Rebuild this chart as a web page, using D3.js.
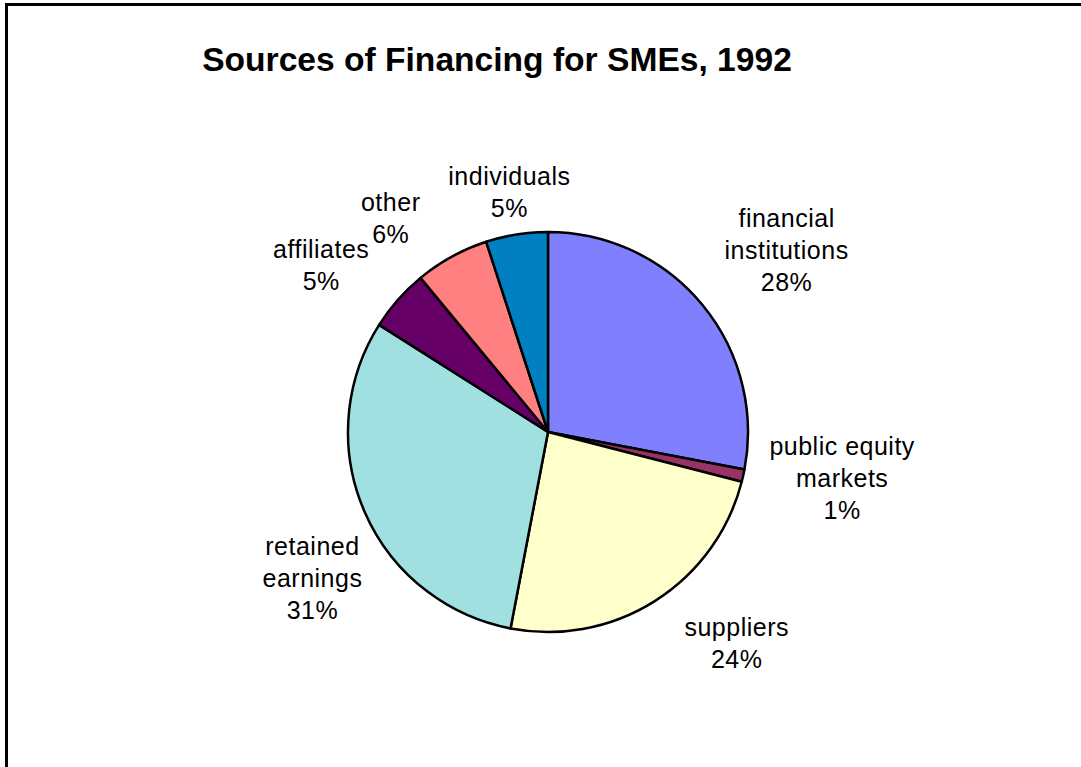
<!DOCTYPE html>
<html>
<head>
<meta charset="utf-8">
<script src="https://cdn.jsdelivr.net/npm/d3@7"></script>
<style>
  html, body { margin: 0; padding: 0; background: #fff; }
  svg { display: block; }
</style>
</head>
<body>
<svg id="chart" width="1081" height="767"></svg>
<script>
// Sources of financing for small and medium enterprises, 1992 (percent of total)
const categories = [
  "financial institutions",
  "public equity markets",
  "suppliers",
  "retained earnings",
  "affiliates",
  "other",
  "individuals"
];
const shares = [28, 1, 24, 31, 5, 6, 5];
const labelLines = [
  ["financial", "institutions"],
  ["public equity", "markets"],
  ["suppliers"],
  ["retained", "earnings"],
  ["affiliates"],
  ["other"],
  ["individuals"]
];
const sliceColors = ["#8080FF", "#993366", "#FFFFCC", "#A0E0E0", "#660066", "#FF8080", "#0080C0"];

const width = 1081, height = 767;
const cx = 548, cy = 432, radius = 200;
const labelRadius = 285;
const lineGap = 32;
// fine placement of each label box relative to its slice direction
const labelNudge = [[19, 0], [16, -16], [36, -30], [26, 33], [-13, 21], [-20, 36], [6, 41]];

const svg = d3.select("#chart");

// outer frame (top and left edges visible)
svg.append("rect")
  .attr("x", 6.5).attr("y", 4.5)
  .attr("width", width + 20).attr("height", height + 20)
  .attr("fill", "none")
  .attr("stroke", "#000")
  .attr("stroke-width", 3);

svg.append("text")
  .attr("x", 497).attr("y", 71)
  .attr("text-anchor", "middle")
  .attr("font-family", "Liberation Sans, Arial, sans-serif")
  .attr("font-weight", "bold")
  .attr("font-size", 33.6)
  .attr("fill", "#000")
  .text("Sources of Financing for SMEs, 1992");

const data = categories.map((c, i) => ({ name: c, value: shares[i], lines: labelLines[i], color: sliceColors[i], i }));

const pie = d3.pie().sort(null).value(d => d.value);
const arcs = pie(data);
const arc = d3.arc().innerRadius(0).outerRadius(radius);

const g = svg.append("g").attr("transform", `translate(${cx},${cy})`);

g.selectAll("path.slice")
  .data(arcs)
  .join("path")
  .attr("class", "slice")
  .attr("d", arc)
  .attr("fill", d => d.data.color)
  .attr("stroke", "#000")
  .attr("stroke-width", 2.5)
  .attr("stroke-linejoin", "round");

g.selectAll("text.label")
  .data(arcs)
  .join("text")
  .attr("class", "label")
  .attr("text-anchor", "middle")
  .attr("font-family", "Liberation Sans, Arial, sans-serif")
  .attr("font-size", 25)
  .attr("letter-spacing", 0.5)
  .attr("fill", "#000")
  .each(function (d) {
    const mid = (d.startAngle + d.endAngle) / 2;
    const nudge = labelNudge[d.data.i];
    const x = Math.sin(mid) * labelRadius + nudge[0];
    const y = -Math.cos(mid) * labelRadius + nudge[1];
    const lines = d.data.lines.concat([d.data.value + "%"]);
    const top = y - (lines.length - 1) * lineGap / 2;
    const t = d3.select(this);
    lines.forEach((ln, k) => {
      t.append("tspan")
        .attr("x", x)
        .attr("y", top + k * lineGap)
        .attr("dy", "0.36em")
        .text(ln);
    });
  });
</script>
</body>
</html>
